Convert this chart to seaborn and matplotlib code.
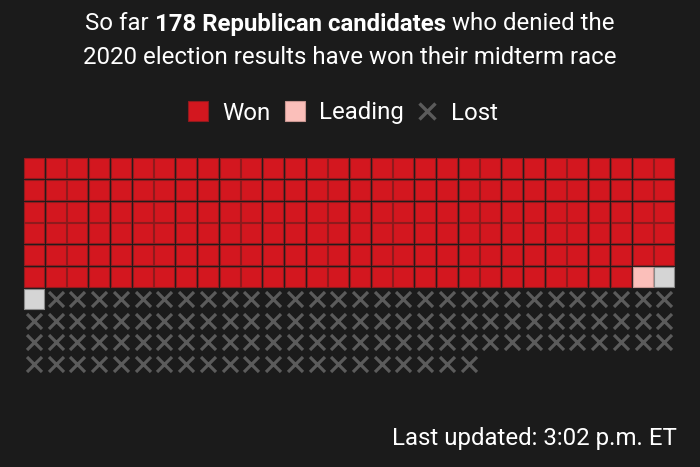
import matplotlib
matplotlib.use("Agg")
import matplotlib.pyplot as plt
from matplotlib.lines import Line2D
import seaborn as sns
import pandas as pd

# ---- data ----
categories = ["Won", "Leading", "Undecided", "Lost"]
counts = [178, 1, 2, 110]
legend_labels = ["Won", "Leading", "Lost"]
title_parts = ["So far ", "178 Republican candidates", " who denied the"]
title_line2 = "2020 election results have won their midterm race"
footer = "Last updated: 3:02 p.m. ET"

# ---- styles ----
BG = "#1b1b1b"
colors = {"Won": "#d3171f", "Leading": "#fbbfba", "Undecided": "#d5d5d5", "Lost": "#5b5b5b"}
edges = {"Won": "#8f1a1d", "Leading": "#c99792", "Undecided": "#8a8a8a", "Lost": "#5b5b5b"}
NCOL = 30
PT = 0.72  # points per pixel at dpi 100

sns.set_theme(style="white")
FONT = "Roboto"
plt.rcParams["font.family"] = [FONT, "DejaVu Sans"]
fs = 17.3

# build grid table
rows = []
idx = 0
for cat, n in zip(categories, counts):
    for _ in range(n):
        rows.append({"category": cat, "col": idx % NCOL, "row": idx // NCOL})
        idx += 1
df = pd.DataFrame(rows)

fig = plt.figure(figsize=(7, 4.67), dpi=100, facecolor=BG)
ax = fig.add_axes([23.1 / 700, (467 - 375.1) / 467, 652 / 700, 218 / 467])
ax.set_facecolor(BG)

sq = (20 * PT) ** 2
for cat in categories:
    sub = df[df["category"] == cat]
    if cat == "Lost":
        sns.scatterplot(data=sub, x="col", y="row", marker="x", s=(15 * PT) ** 2,
                        color=colors[cat], linewidth=2.3, ax=ax, legend=False)
    else:
        sns.scatterplot(data=sub, x="col", y="row", marker="s", s=sq,
                        color=colors[cat], edgecolor=edges[cat], linewidth=0.8,
                        ax=ax, legend=False)

ax.set_xlim(-0.5, NCOL - 0.5)
ax.set_ylim(9.5, -0.5)
ax.axis("off")

# legend
handles = [
    Line2D([], [], marker="s", linestyle="", markersize=20 * PT,
           markerfacecolor=colors["Won"], markeredgecolor=edges["Won"], markeredgewidth=0.8),
    Line2D([], [], marker="s", linestyle="", markersize=20 * PT,
           markerfacecolor=colors["Leading"], markeredgecolor=edges["Leading"], markeredgewidth=0.8),
    Line2D([], [], marker="x", linestyle="", markersize=16 * PT,
           color=colors["Lost"], markeredgewidth=2.4),
]
leg = fig.legend(handles, legend_labels, loc="center", bbox_to_anchor=(0.49, 1 - 113 / 467),
                 ncol=3, frameon=False, fontsize=fs, handlelength=0.9,
                 handletextpad=0.55, columnspacing=0.55)
for t in leg.get_texts():
    t.set_color("white")

# title with bold part
fig.canvas.draw()
r = fig.canvas.get_renderer()
weights = ["normal", "bold", "normal"]
texts = []
for part, w in zip(title_parts, weights):
    texts.append(fig.text(0, 1 - 24 / 467, part, fontsize=fs, fontweight=w,
                          color="white", va="center", ha="left"))
widths = [t.get_window_extent(r).width for t in texts]
total = sum(widths)
x = 350 - total / 2
for t, w in zip(texts, widths):
    t.set_x(x / 700)
    x += w
fig.text(0.5, 1 - 57 / 467, title_line2, fontsize=fs, color="white", ha="center", va="center")

fig.text(677 / 700, 1 - 439 / 467, footer, fontsize=fs, color="white", ha="right", va="center")

fig.savefig("out.png", dpi=100, facecolor=BG)
